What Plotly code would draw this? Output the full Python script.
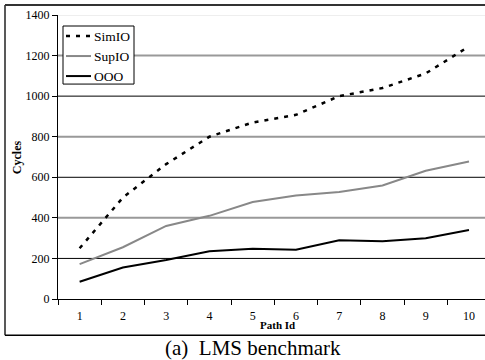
import plotly.graph_objects as go

path_ids = ["1", "2", "3", "4", "5", "6", "7", "8", "9", "10"]
simio = [250, 500, 665, 800, 870, 908, 1000, 1040, 1112, 1245]
supio = [172, 255, 360, 410, 478, 510, 528, 560, 632, 678]
ooo = [85, 155, 192, 235, 248, 243, 290, 285, 299, 340]
y_ticks = [0, 200, 400, 600, 800, 1000, 1200, 1400]
series_names = ["SimIO", "SupIO", "OOO"]

FONT = "Liberation Serif"
styles = [dict(color="black", width=2.5, dash="4px,6px"),
          dict(color="#888888", width=2),
          dict(color="black", width=2)]

fig = go.Figure()
for name, vals, st in zip(series_names, [simio, supio, ooo], styles):
    fig.add_trace(go.Scatter(x=path_ids, y=vals, name=name, mode="lines",
                             line=st, showlegend=False))

L, T, W, H = 58, 15, 427, 283.7
def px(x):
    return (x - L) / W
def py(y):
    return 1 - (y - T) / H

shapes = []
for v in y_ticks[1:]:
    if v == 1400:
        col, w = "#dddddd", 1
    elif v in (1200, 800, 400):
        col, w = "#999999", 2
    else:
        col, w = "black", 1
    shapes.append(dict(type="line", xref="paper", yref="y", x0=0, x1=1.02,
                       y0=v, y1=v, line=dict(color=col, width=w), layer="below"))

# outer figure frame
shapes.append(dict(type="line", xref="paper", yref="paper",
                   x0=px(5), x1=px(5), y0=py(5), y1=py(335),
                   line=dict(color="#222222", width=1.5)))
shapes.append(dict(type="line", xref="paper", yref="paper",
                   x0=px(5), x1=px(490), y0=py(5), y1=py(5),
                   line=dict(color="#333333", width=2)))
shapes.append(dict(type="line", xref="paper", yref="paper",
                   x0=px(5), x1=px(490), y0=py(335), y1=py(335),
                   line=dict(color="black", width=1.5)))

# legend box
shapes.append(dict(type="rect", xref="paper", yref="paper",
                   x0=px(63), x1=px(134), y0=py(26), y1=py(84),
                   fillcolor="white", line=dict(color="black", width=1),
                   layer="above"))
annotations = []
for i, (name, st) in enumerate(zip(series_names, styles)):
    yy = 36 + 20 * i
    shapes.append(dict(type="line", xref="paper", yref="paper",
                       x0=px(66), x1=px(91), y0=py(yy), y1=py(yy),
                       line=st, layer="above"))
    annotations.append(dict(text=name, xref="paper", yref="paper",
                            x=px(92), y=py(yy), xanchor="left", yanchor="middle",
                            showarrow=False, font=dict(size=13.5, family=FONT)))

annotations += [
    dict(text="<b>Path Id</b>", xref="paper", yref="paper",
         x=px(277), y=py(325), xanchor="center", yanchor="middle",
         showarrow=False, font=dict(size=11, family=FONT)),
    dict(text="(a)  LMS benchmark", xref="paper", yref="paper",
         x=px(253), y=py(348), xanchor="center", yanchor="middle",
         showarrow=False, font=dict(size=21, family=FONT)),
    dict(text="<b>Cycles</b>", xref="paper", yref="paper",
         x=px(17), y=py(157), xanchor="center", yanchor="middle",
         showarrow=False, textangle=-90, font=dict(size=12, family=FONT)),
]

fig.update_layout(
    width=485, height=360,
    margin=dict(l=L, r=0, t=T, b=61.3, autoexpand=False),
    paper_bgcolor="white", plot_bgcolor="white",
    font=dict(family=FONT, color="black", size=12),
    showlegend=False,
    shapes=shapes,
    annotations=annotations,
)
fig.update_xaxes(type="category", range=[-0.5, 9.37], tickson="boundaries",
                 ticks="outside", ticklen=5, tickcolor="black",
                 ticklabelstandoff=6,
                 showline=True, linecolor="black", linewidth=1,
                 showgrid=False, zeroline=False, automargin=False,
                 tickfont=dict(size=12, family=FONT))
fig.update_yaxes(range=[0, 1400], tickvals=y_ticks, ticks="outside", ticklen=5,
                 tickcolor="black", showline=True, linecolor="black", linewidth=1,
                 showgrid=False, zeroline=False, automargin=False,
                 tickfont=dict(size=12, family=FONT))

fig.write_html("out.html", config={"displayModeBar": False},
               post_script="document.body.style.margin='0';"
                           "document.body.style.overflow='hidden';")
